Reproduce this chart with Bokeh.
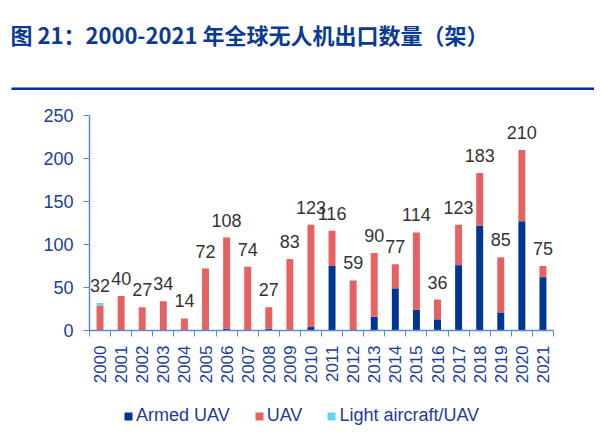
import math
from bokeh.plotting import figure
from bokeh.models import (ColumnDataSource, FixedTicker, Legend, LegendItem,
                          Range1d, Label, BoxAnnotation)
from bokeh.embed import file_html
from bokeh.resources import INLINE
from bokeh.core.properties import value

# ---- data ----
years = [2000, 2001, 2002, 2003, 2004, 2005, 2006, 2007, 2008, 2009, 2010,
         2011, 2012, 2013, 2014, 2015, 2016, 2017, 2018, 2019, 2020, 2021]
armed_uav = [0, 0, 0, 0, 0, 0, 2, 0, 2, 0, 4, 75, 0, 16, 49, 24, 13, 76, 122, 21, 127, 62]
uav = [29, 40, 27, 34, 14, 72, 106, 74, 25, 83, 119, 41, 58, 74, 28, 90, 23, 47, 61, 64, 83, 13]
light_uav = [3, 0, 0, 0, 0, 0, 0, 0, 0, 0, 0, 0, 1, 0, 0, 0, 0, 0, 0, 0, 0, 0]
series_names = ["Armed UAV", "UAV", "Light aircraft/UAV"]
y_ticks = [0, 50, 100, 150, 200, 250]
title_text = "图 21：2000-2021 年全球无人机出口数量（架）"

totals = [a + b + c for a, b, c in zip(armed_uav, uav, light_uav)]

C_ARMED = "#003591"
C_UAV = "#e66262"
C_LIGHT = "#5fd6f8"
C_AXIS = "#5b8bd0"
C_TICKLBL = "#1a3c9c"
C_TITLE = "#0b3a95"
FONT = "Liberation Sans"

W, H = 594, 439
# plot-area placement inside the canvas (pixels)
PL, PR, PT, PB = 89, 41, 115, 109
Y_MAX = 250
x_lo, x_hi = years[0] - 0.5, years[-1] + 0.5
px_x = (W - PL - PR) / (x_hi - x_lo)
px_y = (H - PT - PB) / Y_MAX

p = figure(width=W, height=H, output_backend="svg", toolbar_location=None,
           x_range=Range1d(x_lo - PL / px_x, x_hi + PR / px_x),
           y_range=Range1d(-PB / px_y, Y_MAX + PT / px_y),
           min_border=0, min_border_left=0, min_border_right=0,
           min_border_top=0, min_border_bottom=0)
p.outline_line_color = None
p.grid.visible = False

src = ColumnDataSource(dict(year=years, armed=armed_uav, uav=uav, light=light_uav,
                            total=totals, label=[str(t) for t in totals]))

rs = p.vbar_stack(["armed", "uav", "light"], x="year", width=0.33, source=src,
                  color=[C_ARMED, C_UAV, C_LIGHT], line_width=0)

p.text(x="year", y="total", text="label", source=src, text_align="center",
       text_baseline="bottom", y_offset=-11, text_font=value(FONT),
       text_font_size="18px", text_color="#333333")

# header: title + rule
p.add_layout(Label(x=10, y=H - 33, x_units="screen", y_units="screen", text=title_text,
                   text_font="Noto Sans CJK SC", text_font_style="bold",
                   text_font_size="22px", text_color=C_TITLE,
                   text_baseline="middle", text_align="left"))
p.add_layout(BoxAnnotation(left=11, right=W, bottom=H - 89.5, top=H - 87,
                           left_units="screen", right_units="screen",
                           bottom_units="screen", top_units="screen",
                           fill_color="#003399", fill_alpha=1, line_color=None))

# x axis at y=0: labels at centres, ticks between categories (minor ticks)
xa = p.xaxis[0]
xa.fixed_location = 0
xa.bounds = (x_lo, x_hi)
xa.ticker = FixedTicker(ticks=years, minor_ticks=[y - 0.5 for y in years] + [x_hi])
xa.major_tick_line_color = None
xa.minor_tick_line_color = C_AXIS
xa.minor_tick_in = 0
xa.minor_tick_out = 6
xa.axis_line_color = C_AXIS
xa.axis_line_width = 1.5
xa.major_label_orientation = math.pi / 2
xa.major_label_text_font = FONT
xa.major_label_text_font_size = "17px"
xa.major_label_text_color = C_TICKLBL
xa.major_label_standoff = 9

ya = p.yaxis[0]
ya.fixed_location = x_lo
ya.bounds = (0, Y_MAX)
ya.ticker = FixedTicker(ticks=y_ticks)
ya.minor_tick_line_color = None
ya.major_tick_line_color = C_AXIS
ya.major_tick_in = 0
ya.major_tick_out = 6
ya.axis_line_color = C_AXIS
ya.axis_line_width = 1.5
ya.major_label_text_font = FONT
ya.major_label_text_font_size = "18px"
ya.major_label_text_color = C_TICKLBL
ya.major_label_standoff = 10

legend = Legend(items=[LegendItem(label=n, renderers=[r]) for n, r in zip(series_names, rs)],
                orientation="horizontal", location=(123, 13),
                glyph_width=10, glyph_height=10, label_standoff=3, spacing=24,
                padding=0, margin=0, border_line_color=None, background_fill_alpha=0,
                label_text_font=FONT, label_text_font_size="18px", label_text_color=C_TICKLBL)
p.add_layout(legend, "center")

open("out.html", "w").write(file_html(p, INLINE))
